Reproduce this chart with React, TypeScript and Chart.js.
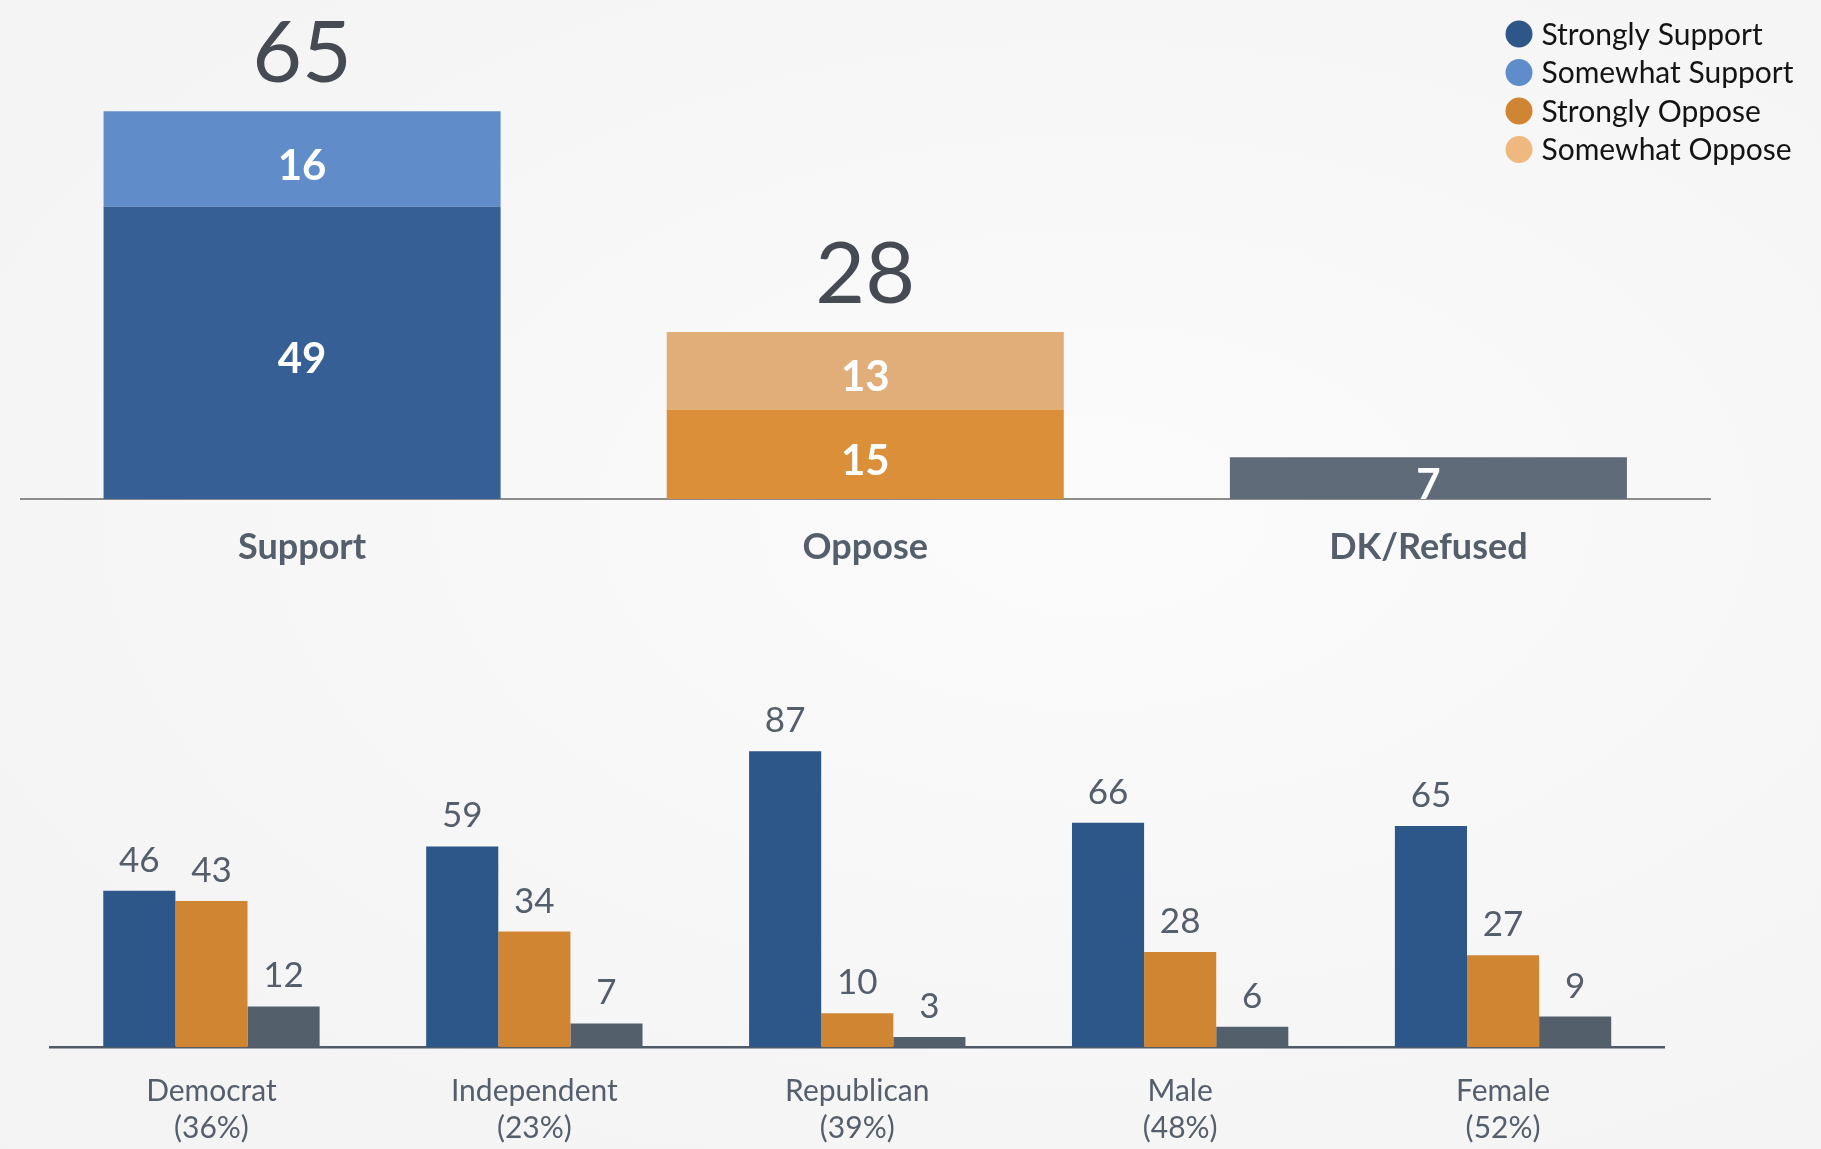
import React, { useEffect, useRef } from 'react';
import { Chart, registerables } from 'chart.js';

Chart.register(...registerables);

// ---------- data ----------
const topCategories = ['Support', 'Oppose', 'DK/Refused'];
const stronglySupport = [49, null, null];
const somewhatSupport = [16, null, null];
const stronglyOppose = [null, 15, null];
const somewhatOppose = [null, 13, null];
const dkRefused = [null, null, 7];
const topTotals = [65, 28, null];

const groupCategories = [
  ['Democrat', '(36%)'],
  ['Independent', '(23%)'],
  ['Republican', '(39%)'],
  ['Male', '(48%)'],
  ['Female', '(52%)'],
];
const groupSupport = [46, 59, 87, 66, 65];
const groupOppose = [43, 34, 10, 28, 27];
const groupDk = [12, 7, 3, 6, 9];

const legendLabels = ['Strongly Support', 'Somewhat Support', 'Strongly Oppose', 'Somewhat Oppose'];

// ---------- styles ----------
const FONT = 'Lato, "Open Sans", "Noto Sans", sans-serif';
const TEXT_GRAY = '#555e6b';

const topLabelsPlugin = {
  id: 'topLabels',
  afterDatasetsDraw(chart: any) {
    const ctx = chart.ctx;
    ctx.save();
    // inner segment values
    chart.data.datasets.forEach((ds: any, di: number) => {
      const meta = chart.getDatasetMeta(di);
      ds.data.forEach((v: any, i: number) => {
        if (v == null) return;
        const el = meta.data[i];
        const cy = (el.y + el.base) / 2 + 7;
        ctx.fillStyle = '#ffffff';
        ctx.font = `bold 42px ${FONT}`;
        ctx.textAlign = 'center';
        ctx.textBaseline = 'middle';
        ctx.fillText(String(v), el.x, cy);
      });
    });
    // totals
    topTotals.forEach((t, i) => {
      if (t == null) return;
      let topY = Infinity;
      let x = 0;
      chart.data.datasets.forEach((ds: any, di: number) => {
        if (ds.data[i] == null) return;
        const el = chart.getDatasetMeta(di).data[i];
        if (el.y < topY) {
          topY = el.y;
          x = el.x;
        }
      });
      ctx.fillStyle = '#454a53';
      ctx.font = `86px ${FONT}`;
      ctx.textAlign = 'center';
      ctx.textBaseline = 'alphabetic';
      ctx.fillText(String(t), x, topY - 29);
    });
    ctx.restore();
  },
  afterDraw(chart: any) {
    const ctx = chart.ctx;
    const opts = chart.options.plugins.topLegend;
    ctx.save();
    let row = 0;
    chart.data.datasets.forEach((ds: any) => {
      if (!legendLabels.includes(ds.label)) return;
      const y = opts.y0 + row * opts.rowGap;
      ctx.beginPath();
      ctx.fillStyle = ds.legendColor || ds.backgroundColor;
      ctx.arc(opts.x0, y, opts.radius, 0, Math.PI * 2);
      ctx.fill();
      ctx.fillStyle = '#141414';
      ctx.font = `30px ${FONT}`;
      ctx.textAlign = 'left';
      ctx.textBaseline = 'middle';
      ctx.fillText(ds.label, opts.x0 + opts.radius + 9, y + 1);
      row++;
    });
    ctx.restore();
  },
};

const groupLabelsPlugin = {
  id: 'groupLabels',
  afterDatasetsDraw(chart: any) {
    const ctx = chart.ctx;
    ctx.save();
    ctx.fillStyle = TEXT_GRAY;
    ctx.font = `35px ${FONT}`;
    ctx.textAlign = 'center';
    ctx.textBaseline = 'alphabetic';
    chart.data.datasets.forEach((ds: any, di: number) => {
      const meta = chart.getDatasetMeta(di);
      ds.data.forEach((v: any, i: number) => {
        const el = meta.data[i];
        ctx.fillText(String(v), el.x, el.y - 19);
      });
    });
    ctx.restore();
  },
};

export default function App() {
  const topRef = useRef<HTMLCanvasElement>(null);
  const bottomRef = useRef<HTMLCanvasElement>(null);

  useEffect(() => {
    document.body.style.margin = '0';
    const top = new Chart(topRef.current!, {
      type: 'bar',
      data: {
        labels: topCategories,
        datasets: [
          { label: 'Strongly Support', data: stronglySupport, backgroundColor: '#365f96', legendColor: '#2e5689' } as any,
          { label: 'Somewhat Support', data: somewhatSupport, backgroundColor: '#608dc9', legendColor: '#5f8ccb' } as any,
          { label: 'Strongly Oppose', data: stronglyOppose, backgroundColor: '#db8f39', legendColor: '#cf8533' } as any,
          { label: 'Somewhat Oppose', data: somewhatOppose, backgroundColor: '#e1ae79', legendColor: '#efb87f' } as any,
          { label: 'DK/Refused', data: dkRefused, backgroundColor: '#5f6b79' } as any,
        ],
      },
      options: {
        responsive: false,
        animation: false,
        events: [],
        layout: { padding: { left: 20.5, right: 111, top: 21.8, bottom: 3.8 } },
        datasets: { bar: { barPercentage: 0.705, categoryPercentage: 1, borderWidth: 0 } },
        scales: {
          x: {
            stacked: true,
            grid: { display: false, drawTicks: false },
            border: { display: true, color: '#8c8c8c', width: 2 },
            ticks: {
              color: TEXT_GRAY,
              font: { family: FONT, size: 36, weight: 'bold', lineHeight: 1.2 },
              padding: 27,
            },
          },
          y: { stacked: true, display: false, min: 0, max: 80 },
        },
        plugins: {
          legend: { display: false },
          tooltip: { enabled: false },
          topLegend: { x0: 1519, y0: 34, rowGap: 38.5, radius: 13.5 },
        } as any,
      },
      plugins: [topLabelsPlugin],
    });

    const bottom = new Chart(bottomRef.current!, {
      type: 'bar',
      data: {
        labels: groupCategories,
        datasets: [
          { label: 'Support', data: groupSupport, backgroundColor: '#2d5689' },
          { label: 'Oppose', data: groupOppose, backgroundColor: '#cf8532' },
          { label: 'DK/Refused', data: groupDk, backgroundColor: '#53606c' },
        ],
      },
      options: {
        responsive: false,
        animation: false,
        events: [],
        layout: { padding: { left: 50, right: 156.5, top: 121, bottom: 0 } },
        datasets: { bar: { barPercentage: 1, categoryPercentage: 0.67, borderWidth: 0 } },
        scales: {
          x: {
            grid: { display: false, drawTicks: false },
            border: { display: true, color: '#4f5a66', width: 2.5 },
            ticks: {
              color: TEXT_GRAY,
              font: { family: FONT, size: 30, lineHeight: 1.23 },
              padding: 26,
            },
          },
          y: { display: false, min: 0, max: 100 },
        },
        plugins: {
          legend: { display: false },
          tooltip: { enabled: false },
        },
      },
      plugins: [groupLabelsPlugin],
    });

    return () => {
      top.destroy();
      bottom.destroy();
    };
  }, []);

  return (
    <div
      style={{
        position: 'absolute',
        left: 0,
        top: 0,
        width: 1821,
        height: 1149,
        overflow: 'hidden',
        background: 'radial-gradient(ellipse at 60% 45%, #fbfbfb 0%, #f6f6f6 60%, #f3f3f3 100%)',
      }}
    >
      <canvas
        ref={topRef}
        width={1821}
        height={600}
        style={{ position: 'absolute', left: 0, top: 0, width: 1821, height: 600 }}
      />
      <canvas
        ref={bottomRef}
        width={1821}
        height={587}
        style={{ position: 'absolute', left: 0, top: 586, width: 1821, height: 587 }}
      />
    </div>
  );
}
